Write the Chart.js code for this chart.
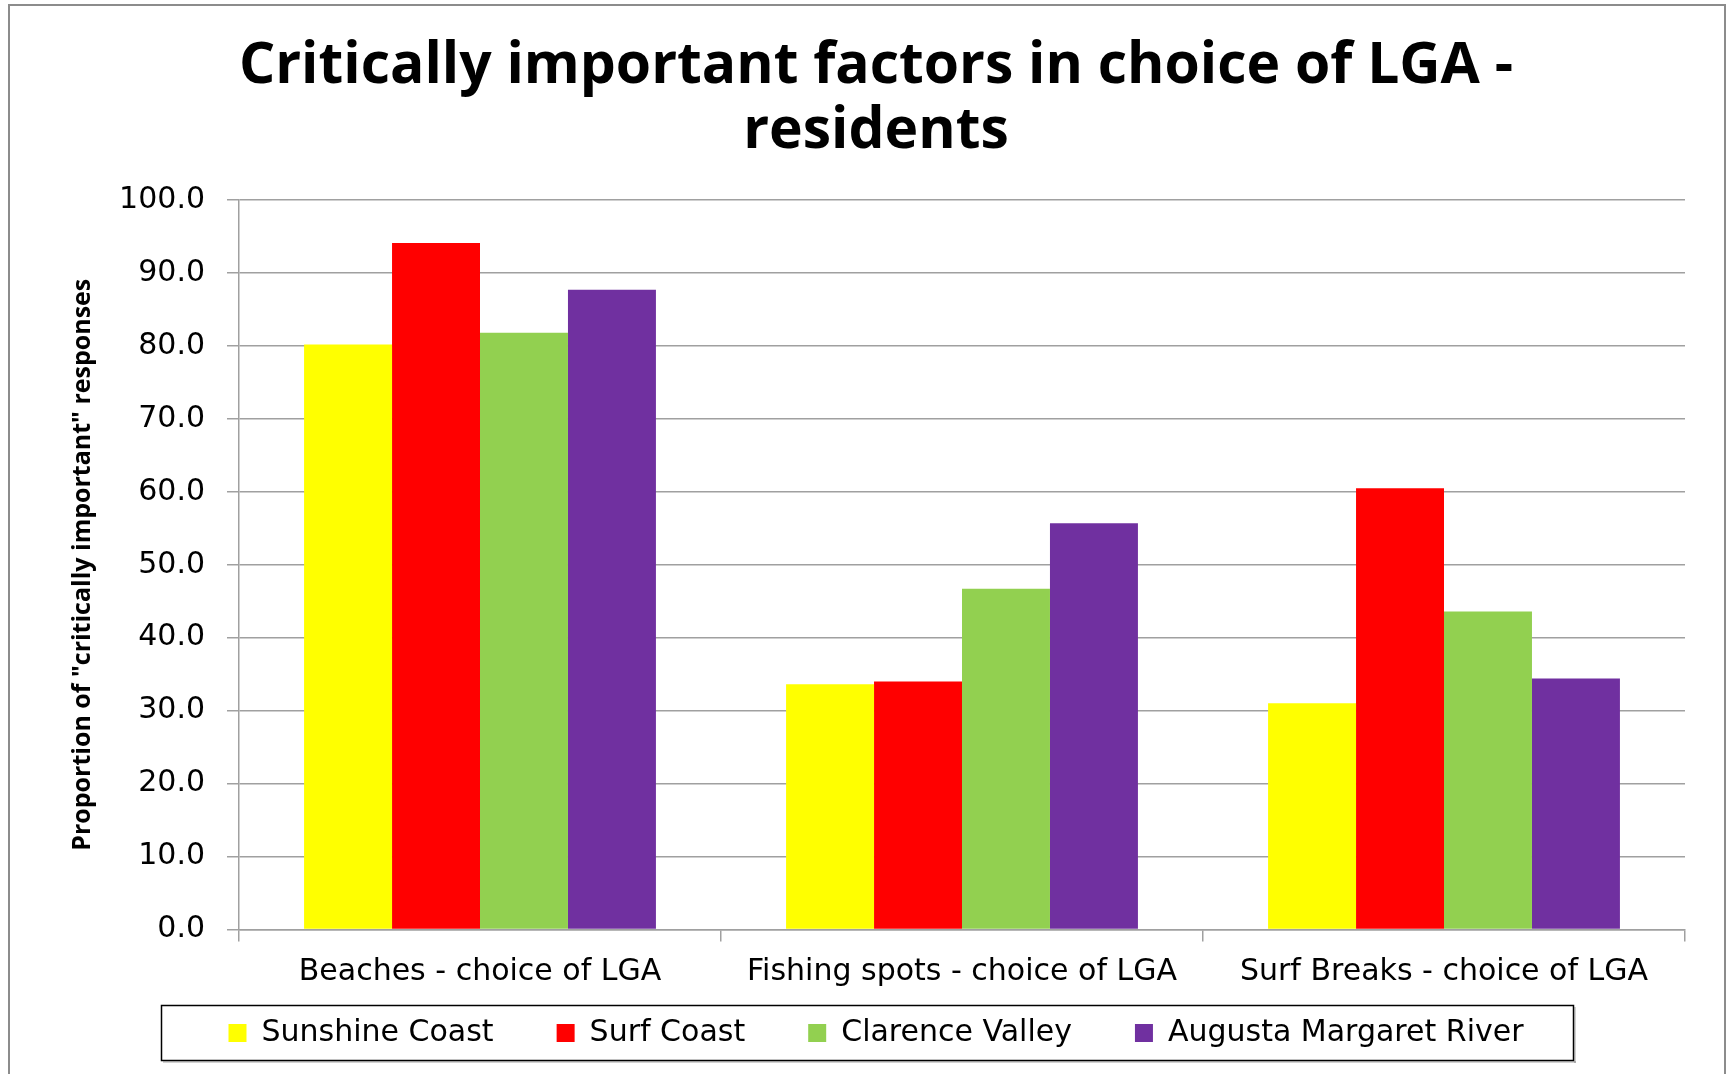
<!DOCTYPE html>
<html>
<head>
<meta charset="utf-8">
<script src="https://cdn.jsdelivr.net/npm/chart.js@4.4.1/dist/chart.umd.min.js"></script>
<style>
  html, body { margin: 0; padding: 0; background: #fff; }
  #wrap { position: relative; width: 1733px; height: 1074px; overflow: hidden; }
  #frame { position: absolute; left: 8px; top: 4px; width: 1718px; height: 1100px; border: 2px solid #8c8c8c; box-sizing: border-box; pointer-events: none; }
  canvas { display: block; }
</style>
</head>
<body>
<div id="wrap">
  <canvas id="c" width="1733" height="1074"></canvas>
  <div id="frame"></div>
</div>
<script>
const titleLines = ['Critically important factors in choice of LGA -', 'residents'];
const yAxisTitle = 'Proportion of "critically important" responses';
const categories = ['Beaches - choice of LGA', 'Fishing spots - choice of LGA', 'Surf Breaks - choice of LGA'];
const seriesNames = ['Sunshine Coast', 'Surf Coast', 'Clarence Valley', 'Augusta Margaret River'];
const sunshineCoast = [80.2, 33.6, 31.0];
const surfCoast = [94.1, 34.0, 60.5];
const clarenceValley = [81.8, 46.7, 43.6];
const augustaMargaretRiver = [87.7, 55.7, 34.4];
const yTicks = [0, 10, 20, 30, 40, 50, 60, 70, 80, 90, 100];
const seriesColors = ['#FFFF00', '#FF0000', '#92D050', '#7030A0'];

const seriesValues = [sunshineCoast, surfCoast, clarenceValley, augustaMargaretRiver];

const legendFrame = {
  id: 'legendFrame',
  afterDraw(chart) {
    const ctx = chart.ctx;
    ctx.save();
    ctx.fillStyle = 'rgba(0,0,0,0.18)';
    ctx.fillRect(163, 1061, 1413, 2);
    ctx.fillRect(1574, 1007, 2, 56);
    ctx.strokeStyle = '#000';
    ctx.lineWidth = 1.5;
    ctx.strokeRect(161.5, 1005.5, 1412, 55);
    ctx.restore();
  }
};

const labelFont = { family: '"DejaVu Sans", sans-serif', size: 30 };

new Chart(document.getElementById('c'), {
  type: 'bar',
  data: {
    labels: categories,
    datasets: seriesNames.map((name, i) => ({
      label: name,
      data: seriesValues[i],
      backgroundColor: seriesColors[i],
      borderWidth: 0,
      categoryPercentage: 0.73,
      barPercentage: 1.0
    }))
  },
  options: {
    responsive: false,
    animation: false,
    devicePixelRatio: 1,
    layout: { padding: { left: 67, right: 48, top: 0, bottom: 16 } },
    plugins: {
      title: {
        display: true,
        text: titleLines,
        color: '#000',
        font: { family: '"Open Sans", sans-serif', size: 57, weight: 'bold', lineHeight: 1.14 },
        padding: { top: 34.5, bottom: 35.5 }
      },
      legend: {
        position: 'bottom',
        labels: {
          color: '#000',
          font: labelFont,
          boxWidth: 18,
          boxHeight: 18,
          padding: 63
        }
      },
      tooltip: { enabled: false }
    },
    scales: {
      x: {
        grid: {
          offset: true,
          drawOnChartArea: false,
          drawTicks: true,
          tickLength: 12,
          color: '#a0a0a0',
          lineWidth: 1.5
        },
        border: { color: '#a0a0a0', width: 1.5 },
        ticks: { color: '#000', font: labelFont, padding: 12.8, maxRotation: 0, autoSkip: false },
        afterFit(scale) {
          scale.height = 25.5;
          // let the category labels extend below the (shortened) axis box
          scale._computeLabelArea = () => undefined;
        }
      },
      y: {
        min: 0,
        max: 100,
        afterBuildTicks(scale) { scale.ticks = yTicks.map(v => ({ value: v })); },
        grid: { color: '#a0a0a0', lineWidth: 1.5, tickLength: 12 },
        border: { color: '#a0a0a0', width: 1.5 },
        ticks: {
          color: '#000',
          font: labelFont,
          padding: 22,
          callback: v => Number(v).toFixed(1)
        },
        title: {
          display: true,
          text: yAxisTitle,
          color: '#000',
          font: { family: '"Open Sans", sans-serif', size: 25, weight: 'bold' },
          padding: { top: 1, bottom: 0 }
        },
        afterFit(scale) { scale.width = 172; }
      }
    }
  },
  plugins: [legendFrame]
});
</script>
</body>
</html>
